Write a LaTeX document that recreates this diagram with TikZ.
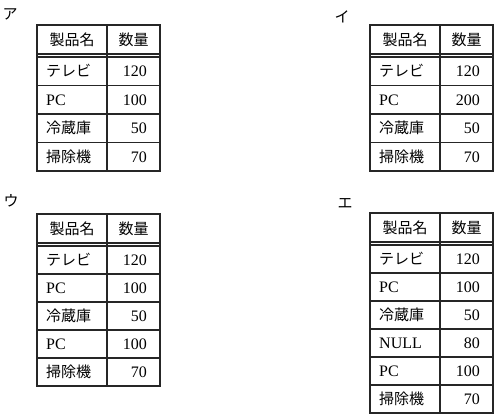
\documentclass[tikz,border=0pt]{standalone}
\usepackage{fontspec}
\setmainfont{Liberation Serif}
\newfontfamily\jpfont{Noto Sans CJK JP}
\newcommand\jt[1]{{\jpfont\fontsize{15}{18}\selectfont #1}}
\tikzset{
  grid/.style={line width=1.1pt, draw=black!85},
  hdr/.style={anchor=base, inner sep=0pt, font=\jpfont\fontsize{15}{18}\selectfont},
  namecell/.style={anchor=base west, inner sep=0pt, font=\fontsize{16}{19}\selectfont},
  qtycell/.style={anchor=base east, inner sep=0pt, font=\fontsize{16}{19}\selectfont},
  lbl/.style={inner sep=0pt, font=\jpfont\fontsize{15}{18}\selectfont}
}
\newcommand\prodtable[5]{%
  \begin{scope}[shift={(#2,#3)}]
    \draw[grid] (0,0) rectangle (70,29);
    \draw[grid] (70,0) rectangle (123,29);
    \foreach \x in {0,70,123} \draw[grid] (\x,29) -- (\x,32);
    \node[hdr] (#1-h1) at (35,20.5) {製品名};
    \node[hdr] (#1-h2) at (96.5,20.5) {数量};
    \foreach[count=\i] \n/\q in {#5} {
      \pgfmathsetmacro\ya{32+(\i-1)*#4}
      \pgfmathsetmacro\yb{32+\i*#4}
      \draw[grid] (0,\ya) rectangle (70,\yb);
      \draw[grid] (70,\ya) rectangle (123,\yb);
      \node[namecell] (#1-n\i) at (9,{(\ya+\yb)/2+5.6}) {\n};
      \node[qtycell] (#1-q\i) at (110,{(\ya+\yb)/2+5.6}) {\q};
    }
  \end{scope}}
\begin{document}
\begin{tikzpicture}[x=1pt,y=-1pt]
  \useasboundingbox[fill=white] (0,0) rectangle (496,417);
  \node[lbl] (la) at (10,14) {ア};
  \node[lbl] (li) at (342,17) {イ};
  \node[lbl] (lu) at (11,201) {ウ};
  \node[lbl] (le) at (345,203) {エ};
  \prodtable{A}{37}{25}{28.5}{\jt{テレビ}/120, PC/100, \jt{冷蔵庫}/50, \jt{掃除機}/70}
  \prodtable{B}{370}{25}{28.5}{\jt{テレビ}/120, PC/200, \jt{冷蔵庫}/50, \jt{掃除機}/70}
  \prodtable{C}{37}{214}{28}{\jt{テレビ}/120, PC/100, \jt{冷蔵庫}/50, PC/100, \jt{掃除機}/70}
  \prodtable{D}{370}{213}{28}{\jt{テレビ}/120, PC/100, \jt{冷蔵庫}/50, NULL/80, PC/100, \jt{掃除機}/70}
\end{tikzpicture}
\end{document}
